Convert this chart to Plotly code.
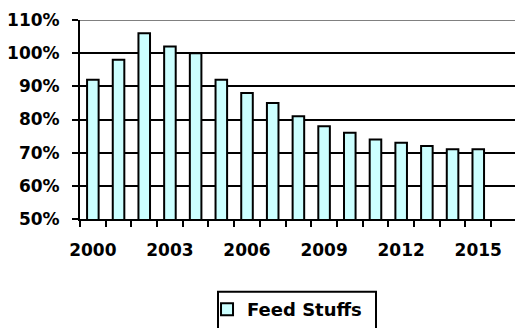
import plotly.graph_objects as go

years = list(range(2000, 2016))
feed_stuffs = [92, 98, 106, 102, 100, 92, 88, 85, 81, 78, 76, 74, 73, 72, 71, 71]
y_ticks = [50, 60, 70, 80, 90, 100, 110]
y_labels = [f"{v}%" for v in y_ticks]
x_label_years = [2000, 2003, 2006, 2009, 2012, 2015]

TICK_FONT = dict(family="DejaVu Sans", size=17, color="black")

fig = go.Figure()
fig.add_trace(go.Bar(
    x=years,
    y=feed_stuffs,
    name="<b>Feed Stuffs</b>",
    width=0.45,
    marker=dict(color="#CCFFFF", line=dict(color="black", width=2)),
))

fig.update_layout(
    width=515,
    height=328,
    margin=dict(l=80, r=0, t=20, b=108),
    paper_bgcolor="white",
    plot_bgcolor="white",
    font=TICK_FONT,
    showlegend=True,
    legend=dict(
        x=0.292, xanchor="left",
        y=-0.36, yanchor="top",
        bgcolor="rgba(0,0,0,0)",
        borderwidth=0,
        font=dict(family="DejaVu Sans", size=18, color="black"),
        itemsizing="constant",
    ),
)

fig.update_xaxes(
    range=[1999.5, 2016.43],
    tickmode="array",
    tickvals=x_label_years,
    ticktext=[f"<b>{y}</b>" for y in x_label_years],
    ticks="",
    ticklabelstandoff=15,
    showgrid=False,
    showline=True,
    linecolor="black",
    linewidth=2,
    zeroline=False,
    minor=dict(ticks="outside", tick0=1999.5, dtick=1, ticklen=6,
               tickcolor="black", tickwidth=2, showgrid=False),
    tickfont=TICK_FONT,
)

fig.update_yaxes(
    range=[50, 110],
    tickmode="array",
    tickvals=y_ticks,
    ticktext=[f"<b>{t}</b>" for t in y_labels],
    ticks="outside",
    ticklen=6,
    tickwidth=2,
    tickcolor="black",
    ticklabelstandoff=9,
    showgrid=True,
    gridcolor="black",
    gridwidth=2,
    showline=True,
    linecolor="black",
    linewidth=2,
    zeroline=False,
    tickfont=TICK_FONT,
)

# Plot-area top border in grey
fig.add_shape(type="line", xref="paper", yref="y", x0=0, x1=1, y0=110, y1=110,
              line=dict(color="#808080", width=2), layer="above")

# Legend frame (runs off the bottom edge)
fig.add_shape(type="rect", xref="paper", yref="paper",
              x0=(218 - 80) / 435, x1=(376 - 80) / 435,
              y0=-0.62, y1=-0.365,
              line=dict(color="black", width=2), fillcolor="rgba(0,0,0,0)")

fig.write_html("out.html")
